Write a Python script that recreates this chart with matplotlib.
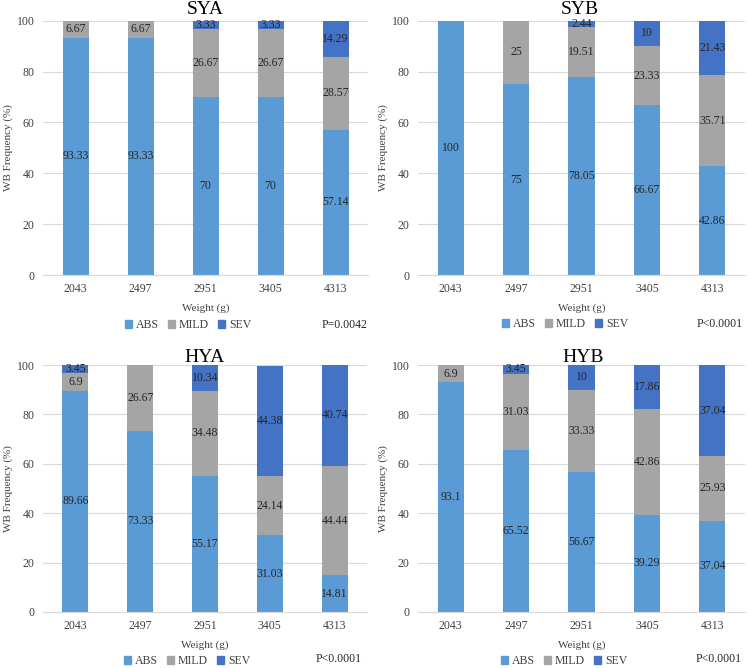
import numpy as np
import matplotlib.pyplot as plt
from matplotlib.patches import Patch

plt.rcParams['font.family'] = ['Liberation Serif', 'DejaVu Serif']

weights = ['2043', '2497', '2951', '3405', '4313']
series = ['ABS', 'MILD', 'SEV']
colors = ['#5B9BD5', '#A5A5A5', '#4472C4']

sya_abs = [93.33, 93.33, 70, 70, 57.14]
sya_mild = [6.67, 6.67, 26.67, 26.67, 28.57]
sya_sev = [0, 0, 3.33, 3.33, 14.29]

syb_abs = [100, 75, 78.05, 66.67, 42.86]
syb_mild = [0, 25, 19.51, 23.33, 35.71]
syb_sev = [0, 0, 2.44, 10, 21.43]

hya_abs = [89.66, 73.33, 55.17, 31.03, 14.81]
hya_mild = [6.9, 26.67, 34.48, 24.14, 44.44]
hya_sev = [3.45, 0, 10.34, 44.38, 40.74]

hyb_abs = [93.1, 65.52, 56.67, 39.29, 37.04]
hyb_mild = [6.9, 31.03, 33.33, 42.86, 25.93]
hyb_sev = [0, 3.45, 10, 17.86, 37.04]

W, H = 750, 668
fig = plt.figure(figsize=(7.5, 6.68), dpi=100)

panels = [
    # title, data, axes px (left, right, top, bottom), p text, title x/y, legend x/y, p right x/y
    ('SYA', (sya_abs, sya_mild, sya_sev), (43, 368, 20.7, 275), 'P=0.0042', (205, 10), (188, 325), (367, 325)),
    ('SYB', (syb_abs, syb_mild, syb_sev), (418, 745, 20.7, 275), 'P<0.0001', (580, 10), (565, 324), (743, 324)),
    ('HYA', (hya_abs, hya_mild, hya_sev), (43, 367, 365, 612), 'P<0.0001', (205, 357), (187, 661), (362, 659)),
    ('HYB', (hyb_abs, hyb_mild, hyb_sev), (418, 745, 365, 612), 'P<0.0001', (583, 357), (564, 661), (742, 659)),
]

x = np.arange(len(weights))
for title, data, (l, r, t, b), ptxt, (tx, ty), (lx, ly), (px, py) in panels:
    ax = fig.add_axes([l / W, 1 - b / H, (r - l) / W, (b - t) / H])
    bottom = np.zeros(len(weights))
    for vals, c in zip(data, colors):
        vals = np.array(vals, dtype=float)
        ax.bar(x, vals, 0.4, bottom=bottom, color=c, zorder=2)
        for xi, v, bo in zip(x, vals, bottom):
            if v > 0:
                ax.text(xi, bo + v / 2, f'{v:g}', ha='center', va='center',
                        fontsize=8.5, color='#262626', zorder=3)
        bottom += vals
    ax.set_xlim(-0.5, 4.5)
    ax.set_ylim(0, 100)
    ax.set_yticks(range(0, 101, 20))
    ax.set_xticks(x)
    ax.set_xticklabels(weights)
    ax.tick_params(length=0, labelsize=8.5, colors='#404040', pad=6)
    ax.yaxis.grid(True, color='#D9D9D9', lw=0.8, zorder=0)
    for s in ['top', 'right', 'left']:
        ax.spines[s].set_visible(False)
    ax.spines['bottom'].set_color('#D9D9D9')
    ax.set_xlabel('Weight (g)', fontsize=8, color='#404040', labelpad=6)
    ax.set_ylabel('WB Frequency (%)', fontsize=8, color='#404040', labelpad=3)
    fig.text(tx / W, 1 - ty / H, title, ha='center', va='center', fontsize=14)
    handles = [Patch(color=c, label=s) for s, c in zip(series, colors)]
    fig.legend(handles=handles, loc='center', bbox_to_anchor=(lx / W, 1 - ly / H),
               ncol=3, frameon=False, fontsize=8.5, handlelength=0.6, handleheight=0.6,
               handletextpad=0.3, columnspacing=0.8, labelcolor='#404040')
    fig.text(px / W, 1 - py / H, ptxt, ha='right', va='center', fontsize=8.5, color='#262626')

fig.savefig('out.png', dpi=100)
